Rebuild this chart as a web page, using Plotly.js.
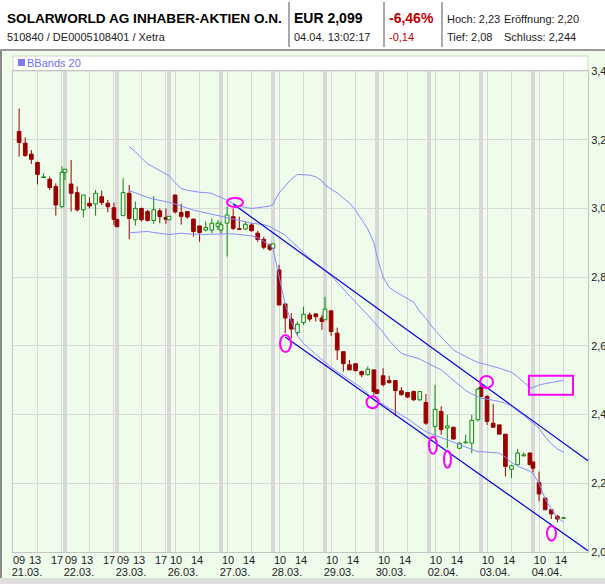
<!DOCTYPE html>
<html><head><meta charset="utf-8">
<script src="https://cdn.plot.ly/plotly-3.0.1.min.js"></script>
<style>html,body{margin:0;padding:0;background:#eefbe9;}#chart{width:605px;height:584px;}</style>
</head><body><div id="chart"></div>
<script>
// ---------- DATA ----------
const dayLabels = ['21.03.','22.03.','23.03.','26.03.','27.03.','28.03.','29.03.','30.03.','02.04.','03.04.','04.04.'];
const hourTicksEarly = ['09','13','17'];
const hourTicksLate = ['10','14'];
const candleDay = [0,0,0,0,0,0,0,0,0, 1,1,1,1,1,1,1,1,1, 2,2,2,2,2,2,2,2,2, 3,3,3,3,3,3,3,3,3, 4,4,4,4,4,4,4,4,4, 5,5,5,5,5,5,5,5,5, 6,6,6,6,6,6,6,6,6, 7,7,7,7,7,7,7,7, 8,8,8,8,8,8,8,8,8, 9,9,9,9,9,9,9,9,9, 10,10,10,10,10];
const candleHour = [10,11,12,13,14,15,16,17,17.5, 10,11,12,13,14,15,16,17,17.5, 10,11,12,13,14,15,16,17,17.5, 10,11,12,13,14,15,16,17,17.5, 10,11,12,13,14,15,16,17,17.5, 10,11,12,13,14,15,16,17,17.5, 10,11,12,13,14,15,16,17,17.5, 10,11,12,13,14,15,16,17, 10,11,12,13,14,15,16,17,17.5, 10,11,12,13,14,15,16,17,17.5, 10,11,12,13,14];
const open = [3.224,3.190,3.158,3.134,3.090,3.085,3.064,3.005,3.105,
 3.071,3.046,2.996,3.015,3.013,3.034,3.015,3.002,2.968,
 2.979,3.044,2.967,3.000,2.991,2.965,2.993,2.974,2.967,
 3.039,2.988,2.991,2.969,2.949,2.937,2.937,2.947,2.937,
 2.957,2.976,2.941,2.940,2.952,2.928,2.910,2.894,2.884,
 2.821,2.722,2.678,2.639,2.668,2.690,2.693,2.681,2.676,
 2.702,2.637,2.583,2.545,2.548,2.525,2.516,2.530,2.472,
 2.513,2.499,2.499,2.469,2.464,2.467,2.443,2.435,
 2.365,2.409,2.361,2.363,2.302,2.318,2.317,2.385,2.480,
 2.453,2.375,2.370,2.343,2.241,2.254,2.280,2.288,2.262,
 2.202,2.157,2.123,2.104,2.098];
const high = [3.291,3.207,3.170,3.136,3.102,3.093,3.073,3.122,3.114,
 3.141,3.064,3.040,3.032,3.054,3.052,3.025,3.017,2.970,
 3.088,3.068,3.020,3.002,2.996,3.036,3.000,3.000,2.977,
 3.040,3.014,2.992,2.970,2.950,2.962,2.971,2.966,2.962,
 3.005,3.000,2.976,2.962,2.957,2.935,2.918,2.897,2.897,
 2.836,2.722,2.695,2.671,2.714,2.697,2.695,2.690,2.743,
 2.702,2.653,2.583,2.559,2.550,2.528,2.540,2.530,2.474,
 2.535,2.513,2.500,2.480,2.466,2.470,2.467,2.460,
 2.487,2.424,2.399,2.365,2.319,2.341,2.399,2.477,2.487,
 2.456,2.431,2.370,2.343,2.254,2.300,2.290,2.290,2.262,
 2.234,2.157,2.123,2.108,2.100];
const low = [3.151,3.150,3.129,3.070,3.088,3.054,2.979,3.002,3.083,
 2.991,2.991,2.974,3.000,2.979,3.010,2.989,2.952,2.945,
 2.979,2.910,2.950,2.962,2.962,2.955,2.957,2.955,2.966,
 2.985,2.953,2.970,2.918,2.903,2.933,2.928,2.937,2.928,
 2.860,2.937,2.938,2.937,2.933,2.903,2.881,2.876,2.884,
 2.719,2.637,2.622,2.629,2.661,2.671,2.671,2.647,2.676,
 2.629,2.559,2.525,2.530,2.525,2.509,2.514,2.457,2.460,
 2.482,2.490,2.395,2.455,2.448,2.440,2.440,2.370,
 2.336,2.341,2.302,2.327,2.300,2.316,2.288,2.380,2.453,
 2.370,2.363,2.343,2.220,2.215,2.254,2.278,2.254,2.232,
 2.147,2.123,2.096,2.086,2.098];
const close = [3.192,3.154,3.143,3.099,3.092,3.061,3.010,3.105,3.114,
 3.044,2.996,3.039,3.007,3.044,3.017,3.005,2.968,2.947,
 3.046,2.971,3.000,2.967,2.965,2.996,2.976,2.968,2.977,
 2.990,2.977,2.975,2.933,2.930,2.944,2.957,2.957,2.952,
 2.981,2.942,2.939,2.954,2.935,2.910,2.887,2.881,2.897,
 2.719,2.681,2.649,2.663,2.692,2.678,2.685,2.671,2.707,
 2.642,2.588,2.548,2.530,2.528,2.516,2.532,2.467,2.462,
 2.487,2.493,2.470,2.458,2.451,2.443,2.467,2.375,
 2.415,2.356,2.367,2.329,2.317,2.320,2.383,2.474,2.453,
 2.380,2.363,2.343,2.249,2.251,2.288,2.283,2.254,2.244,
 2.169,2.123,2.111,2.096,2.100];
const N0 = Array(19).fill(null);
const bbUpper = N0.concat([3.18,3.165,3.147,3.13,3.12,3.11,3.10,3.095,
 3.075,3.058,3.053,3.049,3.047,3.046,3.044,3.035,3.033,
 3.023,3.015,3.006,3.003,3.000,3.002,3.005,3.007,3.012,
 3.045,3.065,3.085,3.099,3.099,3.097,3.092,3.08,3.068,
 3.057,3.045,3.03,3.016,2.995,2.968,2.94,2.90,2.86,
 2.80,2.77,2.758,2.748,2.738,2.727,2.70,2.68,
 2.645,2.625,2.605,2.588,2.578,2.568,2.56,2.552,2.550,
 2.545,2.54,2.535,2.53,2.523,2.51,2.495,2.478,2.478,
 2.486,2.49,2.493,2.497,2.50]);
const bbMid = N0.concat([3.052,3.045,3.038,3.032,3.027,3.024,3.02,3.018,
 3.013,3.007,2.999,2.995,2.991,2.987,2.982,2.979,2.977,
 2.974,2.969,2.965,2.96,2.957,2.955,2.953,2.947,2.942,
 2.934,2.922,2.905,2.888,2.87,2.855,2.84,2.826,2.82,
 2.805,2.785,2.765,2.745,2.727,2.708,2.69,2.67,2.66,
 2.64,2.615,2.595,2.578,2.572,2.567,2.562,2.552,
 2.54,2.53,2.515,2.50,2.485,2.47,2.46,2.452,2.448,
 2.445,2.442,2.438,2.433,2.425,2.41,2.398,2.383,2.375,
 2.36,2.335,2.315,2.30,2.29]);
const bbLower = N0.concat([2.929,2.93,2.932,2.933,2.93,2.927,2.924,2.924,
 2.926,2.928,2.926,2.925,2.923,2.924,2.925,2.926,2.926,
 2.926,2.926,2.924,2.922,2.92,2.915,2.905,2.893,2.884,
 2.80,2.72,2.67,2.63,2.607,2.59,2.575,2.56,2.552,
 2.538,2.525,2.513,2.50,2.49,2.478,2.46,2.443,2.438,
 2.43,2.418,2.41,2.398,2.388,2.375,2.362,2.35,
 2.34,2.333,2.326,2.32,2.312,2.305,2.298,2.292,2.292,
 2.291,2.29,2.288,2.276,2.26,2.25,2.243,2.235,2.228,
 2.20,2.155,2.125,2.10,2.087]);
// trend channel (day index, hour, value)
const chanUpperDay = [4, 10], chanUpperHour = [11, 18], chanUpperVal = [3.013, 2.2655];
const chanLowerDay = [5, 10], chanLowerHour = [11, 18], chanLowerVal = [2.626, 2.0036];
// hand-drawn magenta marks (centres)
const markDay = [4, 5, 6, 8, 8, 9, 10];
const markHour = [11.29, 11.05, 16.77, 9.66, 12.03, 9.91, 12.03];
const markVal = [3.0175, 2.607, 2.436, 2.3105, 2.27, 2.495, 2.0545];
const boxDay = [9, 10], boxHour = [16.85, 15.55], boxVal = [2.4575, 2.5127];

// ---------- GEOMETRY / STYLE ----------
const W = 605, H = 584, M = {l: 13, r: 17, t: 71, b: 32, pad: 0};
const pw = W - M.l - M.r, ph = H - M.t - M.b;
const PX = px => (px - M.l) / pw;
const PY = py => (H - M.b - py) / ph;
const SESSION = 8.5;
const xOf = (d, h) => d * SESSION + (h - 9);
const XMAX = 94;
const markR = [[8,4.5],[5.5,8.5],[6,6],[4,8.5],[3.5,8.5],[6.5,6],[4.5,7.5]];
const UP = '#0a8a0a', DOWN = '#990000', BB = '#8a8aff', CH = '#0000dd', MAG = '#ff00ff';
const BG = '#effcec', GRID = '#d8d8d8';
const FONT = 'Liberation Sans, Arial, sans-serif';

// ---------- TRACES ----------
const xs = candleDay.map((d, i) => xOf(d, candleHour[i]));
const upIdx = [], dnIdx = [];
close.forEach((c, i) => (c >= open[i] ? upIdx : dnIdx).push(i));
function wicks(idx) {
  const x = [], y = [];
  idx.forEach(i => {
    const top = Math.max(open[i], close[i]), bot = Math.min(open[i], close[i]);
    x.push(xs[i], xs[i], null, xs[i], xs[i], null);
    y.push(high[i], top, null, bot, low[i], null);
  });
  return {x, y};
}
const wu = wicks(upIdx), wd = wicks(dnIdx);
const traces = [
  {type: 'bar', x: dnIdx.map(i => xs[i]), base: dnIdx.map(i => close[i]), y: dnIdx.map(i => open[i] - close[i]),
   width: 0.6, marker: {color: DOWN, line: {color: DOWN, width: 1}}, hoverinfo: 'skip', showlegend: false},
  {type: 'bar', x: upIdx.map(i => xs[i]), base: upIdx.map(i => open[i]), y: upIdx.map(i => close[i] - open[i]),
   width: 0.6, marker: {color: BG, line: {color: UP, width: 1}}, hoverinfo: 'skip', showlegend: false},
  {type: 'scatter', mode: 'lines', x: wd.x, y: wd.y, line: {color: DOWN, width: 1}, hoverinfo: 'skip', showlegend: false},
  {type: 'scatter', mode: 'lines', x: wu.x, y: wu.y, line: {color: UP, width: 1}, hoverinfo: 'skip', showlegend: false},
  {type: 'scatter', mode: 'lines', x: xs, y: bbUpper, line: {color: BB, width: 1}, hoverinfo: 'skip', showlegend: false},
  {type: 'scatter', mode: 'lines', x: xs, y: bbMid, line: {color: BB, width: 1}, hoverinfo: 'skip', showlegend: false},
  {type: 'scatter', mode: 'lines', x: xs, y: bbLower, line: {color: BB, width: 1}, hoverinfo: 'skip', showlegend: false},
  {type: 'scatter', mode: 'lines', x: chanUpperDay.map((d, i) => xOf(d, chanUpperHour[i])), y: chanUpperVal,
   line: {color: CH, width: 1.2}, hoverinfo: 'skip', showlegend: false},
  {type: 'scatter', mode: 'lines', x: chanLowerDay.map((d, i) => xOf(d, chanLowerHour[i])), y: chanLowerVal,
   line: {color: CH, width: 1.2}, hoverinfo: 'skip', showlegend: false},
];
const dayStarts = dayLabels.map((_, d) => xOf(d, 9));
traces.push({type: 'scatter', mode: 'lines', x: dayStarts, y: dayStarts.map(() => null), xaxis: 'x2', hoverinfo: 'skip', showlegend: false});
traces.push({type: 'scatter', mode: 'lines', x: dayStarts, y: dayStarts.map(() => null), xaxis: 'x3', hoverinfo: 'skip', showlegend: false});

// grid (true times) and label positions
const gridVals = [], labVals = [], labText = [];
dayLabels.forEach((_, d) => {
  if (d < 3) {
    gridVals.push(xOf(d, 13), xOf(d, 17));
    [10.0, 12.6, 16.2].forEach((h, k) => { labVals.push(xOf(d, h)); labText.push(hourTicksEarly[k]); });
  } else {
    gridVals.push(xOf(d, 10), xOf(d, 14));
    [10.15, 13.6].forEach((h, k) => { labVals.push(xOf(d, h)); labText.push(hourTicksLate[k]); });
  }
});

// ---------- SHAPES ----------
const shapes = [];
shapes.push({type: 'rect', xref: 'paper', yref: 'paper', x0: PX(0), x1: PX(605), y0: PY(50), y1: PY(0), fillcolor: '#ffffff', line: {width: 0}, layer: 'below'});
shapes.push({type: 'line', xref: 'paper', yref: 'paper', x0: PX(0), x1: PX(605), y0: PY(50), y1: PY(50), line: {color: '#9a9a9a', width: 2}});
[289, 384, 442].forEach(px => shapes.push({type: 'line', xref: 'paper', yref: 'paper', x0: PX(px), x1: PX(px), y0: PY(2), y1: PY(47), line: {color: '#8c8c8c', width: 1.5}}));
shapes.push({type: 'rect', xref: 'paper', yref: 'paper', x0: PX(13), x1: PX(588), y0: PY(71), y1: PY(56), fillcolor: '#ffffff', line: {color: '#d4d4d4', width: 1}, layer: 'below'});
shapes.push({type: 'rect', xref: 'paper', yref: 'paper', x0: PX(18), x1: PX(25), y0: PY(66), y1: PY(59), fillcolor: '#7c7cf0', line: {width: 0}});
shapes.push({type: 'line', xref: 'paper', yref: 'paper', x0: PX(1), x1: PX(1), y0: PY(578), y1: PY(51), line: {color: '#8a8a8a', width: 2}});
shapes.push({type: 'rect', xref: 'paper', yref: 'paper', x0: PX(0), x1: PX(605), y0: PY(584), y1: PY(578), fillcolor: '#dedede', line: {width: 0}});
markDay.forEach((d, i) => {
  const cx = xOf(d, markHour[i]);
  shapes.push({type: 'circle', xref: 'x', yref: 'y', xsizemode: 'pixel', ysizemode: 'pixel', xanchor: cx, yanchor: markVal[i],
    x0: -markR[i][0], x1: markR[i][0], y0: -markR[i][1], y1: markR[i][1], line: {color: MAG, width: 2}});
});
shapes.push({type: 'rect', xref: 'x', yref: 'y', x0: xOf(boxDay[0], boxHour[0]), x1: xOf(boxDay[1], boxHour[1]), y0: boxVal[0], y1: boxVal[1], line: {color: MAG, width: 2}});

// ---------- ANNOTATIONS ----------
const ann = (px, py, text, size, color, bold) => ({xref: 'paper', yref: 'paper', x: PX(px), y: PY(py), xanchor: 'left', yanchor: 'middle',
  text: bold ? '<b>' + text + '</b>' : text, showarrow: false, borderpad: 0, font: {family: FONT, size: size, color: color}});
const annotations = [
  ann(6, 18, 'SOLARWORLD AG INHABER-AKTIEN O.N.', 13.6, '#000', true),
  ann(6, 37, '510840 / DE0005108401 / Xetra', 11, '#222', false),
  ann(293, 18, 'EUR 2,099', 14, '#000', true),
  ann(293, 37, '04.04. 13:02:17', 11, '#222', false),
  ann(388, 18, '-6,46%', 14, '#c00000', true),
  ann(388, 37, '-0,14', 11, '#c00000', false),
  ann(446, 19, 'Hoch: 2,23', 11, '#222', false),
  ann(503, 19, 'Eröffnung: 2,20', 11, '#222', false),
  ann(446, 37, 'Tief: 2,08', 11, '#222', false),
  ann(503, 37, 'Schluss: 2,244', 11, '#222', false),
  ann(26, 63, 'BBands 20', 11, '#7070f0', false),
];

const axBase = {range: [0, XMAX], zeroline: false, fixedrange: true};
const layout = {
  width: W, height: H, margin: M, paper_bgcolor: BG, plot_bgcolor: BG,
  separators: ',.', showlegend: false, hovermode: false, barmode: 'overlay',
  font: {family: FONT, size: 11, color: '#222'},
  xaxis: Object.assign({}, axBase, {tickmode: 'array', tickvals: gridVals, showticklabels: false, ticks: '',
    showgrid: true, gridcolor: GRID, gridwidth: 1, showline: true, mirror: true, linecolor: '#c4c4c4', linewidth: 1}),
  xaxis2: Object.assign({}, axBase, {overlaying: 'x', anchor: 'y', side: 'bottom', tickmode: 'array', tickvals: dayStarts, ticktext: dayLabels,
    showgrid: true, gridcolor: GRID, gridwidth: 3.5, ticks: '', tickangle: 0, ticklabelshift: 14, ticklabelstandoff: 12, tickfont: {size: 11, color: '#222'}}),
  xaxis3: Object.assign({}, axBase, {overlaying: 'x', anchor: 'y', side: 'bottom', tickmode: 'array', tickvals: labVals, ticktext: labText,
    showgrid: false, ticks: '', tickangle: 0, tickfont: {size: 11, color: '#222'}}),
  yaxis: {range: [2.0, 3.4], side: 'right', tickmode: 'array', tickvals: [2.0,2.2,2.4,2.6,2.8,3.0,3.2,3.4], tickformat: '.1f',
    showgrid: true, gridcolor: GRID, gridwidth: 1, zeroline: false, ticks: '', showline: true, mirror: true, linecolor: '#c4c4c4',
    tickfont: {size: 11, color: '#222'}, fixedrange: true},
  shapes: shapes, annotations: annotations,
};
Plotly.newPlot('chart', traces, layout, {displayModeBar: false, staticPlot: true});
</script></body></html>
